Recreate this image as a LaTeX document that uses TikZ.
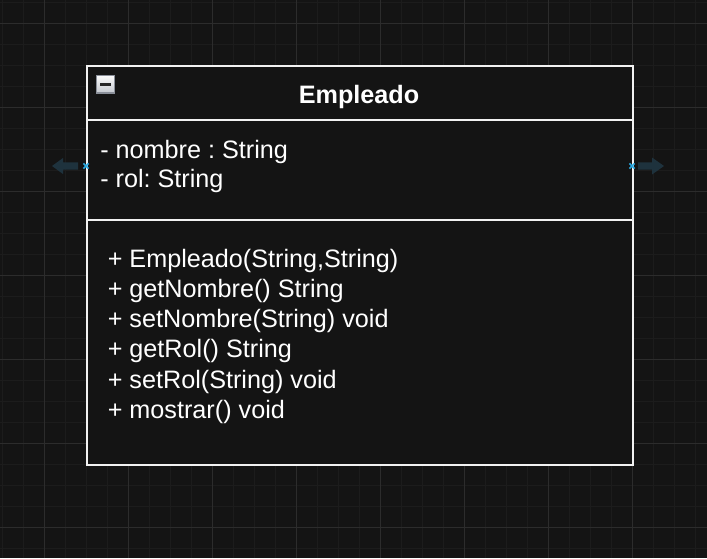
\documentclass[tikz,border=0pt]{standalone}
\usepackage{fontspec}
\setmainfont{Liberation Sans}
\usetikzlibrary{calc}
\frenchspacing
\definecolor{bgc}{HTML}{141414}
\definecolor{minorc}{HTML}{1C1C1C}
\definecolor{majorc}{HTML}{2C2C2C}
\definecolor{framec}{HTML}{F2F2F2}
\definecolor{hoverc}{HTML}{1E323D}
\definecolor{markc}{HTML}{2AA8E0}
\definecolor{iconb}{HTML}{8A8F99}
\definecolor{icont}{HTML}{FBFBFB}
\definecolor{iconbt}{HTML}{C4C8CF}
\tikzset{
  frame/.style={draw=framec, line width=1.5pt},
  txt/.style={anchor=base west, inner sep=0pt, text=white, font=\fontsize{18.9pt}{22pt}\selectfont},
  ttl/.style={anchor=base, inner sep=0pt, text=white, font=\fontsize{18.9pt}{22pt}\selectfont\bfseries},
  hover/.style={fill=hoverc, draw=none},
  cmark/.style={draw=markc, line width=1.1pt},
}
\begin{document}
\frenchspacing
\begin{tikzpicture}[x=0.75pt,y=-0.75pt]
\useasboundingbox (0,0) rectangle (707,558);
\fill[bgc] (0,0) rectangle (707,558);
% grid
\foreach \i in {0,...,34} {
  \draw[minorc, line width=0.75pt] ({2.3+21*\i},0) -- ({2.3+21*\i},558);
}
\foreach \j in {0,...,26} {
  \draw[minorc, line width=0.75pt] (0,{2+21*\j}) -- (707,{2+21*\j});
}
\foreach \i in {0,...,7} {
  \draw[majorc, line width=0.75pt] ({44.3+84*\i},0) -- ({44.3+84*\i},558);
}
\foreach \j in {0,...,6} {
  \draw[majorc, line width=0.75pt] (0,{23+84*\j}) -- (707,{23+84*\j});
}
% class box
\node[frame, fill=bgc, anchor=north west, minimum width=545.5*0.75pt, minimum height=398.5*0.75pt, inner sep=0pt] (cls) at (86,65) {};
\coordinate (d1l) at (86,120);
\coordinate (d1r) at (631.5,120);
\coordinate (d2l) at (86,219.5);
\coordinate (d2r) at (631.5,219.5);
\draw[frame] (d1l) -- (d1r);
\draw[frame] (d2l) -- (d2r);
% collapse icon
\node[draw=iconb, line width=1.3pt, top color=icont, bottom color=iconbt, minimum width=18*0.75pt, minimum height=17.5*0.75pt, inner sep=0pt] (icon) at (105.5,84.2) {};
\fill[black!85] (99.8,83.4) rectangle (111.4,86);
% title
\node[ttl] (title) at (359,103) {Empleado};
% attributes
\node[txt] (a1) at (100,158) {- nombre : String};
\node[txt] (a2) at (100,187.5) {- rol: String};
% methods
\node[txt] (m1) at (107.5,267) {+ Empleado(String,String)};
\node[txt] (m2) at (107.5,297.3) {+ getNombre() String};
\node[txt] (m3) at (107.5,327.6) {+ setNombre(String) void};
\node[txt] (m4) at (107.5,357.9) {+ getRol() String};
\node[txt] (m5) at (107.5,388.2) {+ setRol(String) void};
\node[txt] (m6) at (107.5,418.5) {+ mostrar() void};
% hover arrows
\fill[hover] (52,166) -- (63,158) -- (63,162.3) -- (78,162.3) -- (78,169.7) -- (63,169.7) -- (63,174) -- cycle;
\fill[hover] (664,166) -- (652,157.5) -- (652,162.3) -- (638,162.3) -- (638,169.7) -- (652,169.7) -- (652,174.5) -- cycle;
% connection markers
\coordinate (pl) at (86,166);
\coordinate (pr) at (632,166);
\draw[cmark] ($(pl)+(-2.6,-2.6)$) -- ($(pl)+(2.6,2.6)$);
\draw[cmark] ($(pl)+(-2.6,2.6)$) -- ($(pl)+(2.6,-2.6)$);
\draw[cmark] ($(pr)+(-2.6,-2.6)$) -- ($(pr)+(2.6,2.6)$);
\draw[cmark] ($(pr)+(-2.6,2.6)$) -- ($(pr)+(2.6,-2.6)$);
\end{tikzpicture}
\end{document}
